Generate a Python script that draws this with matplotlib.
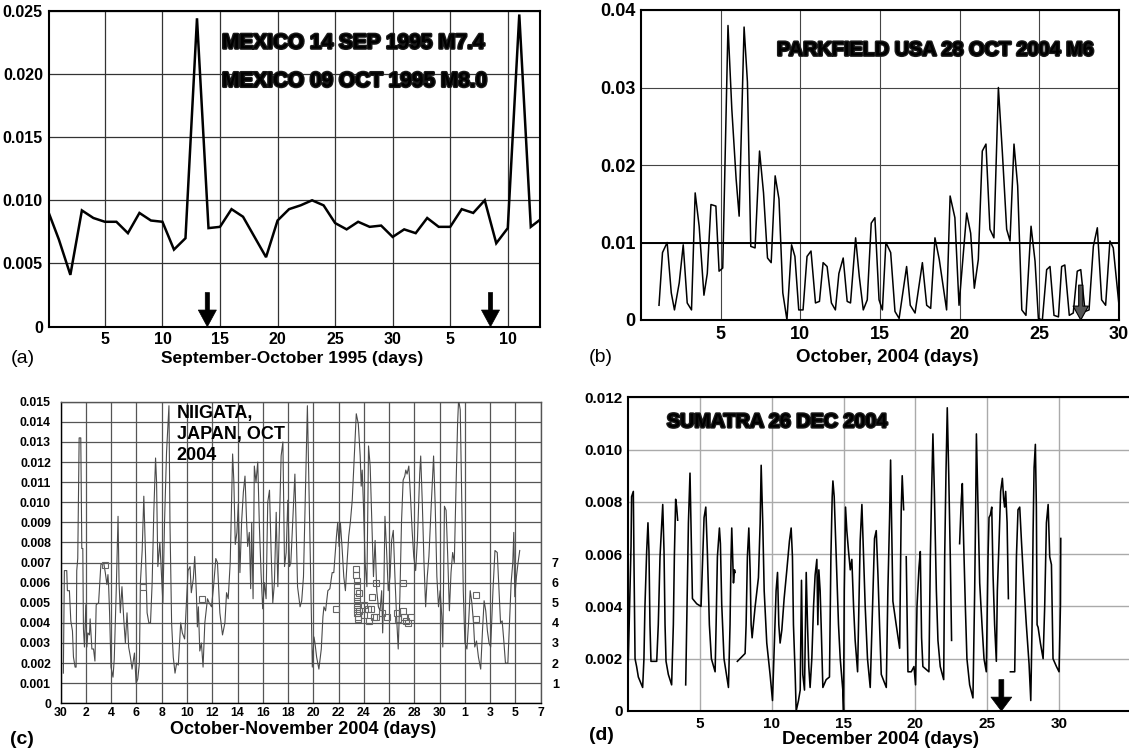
import numpy as np
import matplotlib
matplotlib.use("Agg")
import matplotlib.pyplot as plt
import matplotlib.patheffects as pe
from matplotlib.patches import FancyArrowPatch
from matplotlib.ticker import FixedLocator, FuncFormatter

plt.rcParams["font.family"] = ["Liberation Sans", "DejaVu Sans"]
plt.rcParams["font.weight"] = "bold"

NAN = float("nan")

# (a) Mexico, Sept-Oct 1995, daily values; day 31.. = October
a_days = list(range(44))
a_vals = [0.0093, 0.0069, 0.0041, 0.0092, 0.0086, 0.0083, 0.0083, 0.0074, 0.0090, 0.0084,
          0.0083, 0.0061, 0.0070, 0.0244, 0.0078, 0.0079, 0.0093, 0.0087, 0.0071, 0.0055,
          0.0084, 0.0093, 0.0096, 0.0100, 0.0096, 0.0082, 0.0077, 0.0083, 0.0079, 0.0080,
          0.0071, 0.0077, 0.0074, 0.0086, 0.0079, 0.0079, 0.0093, 0.0090, 0.0100, 0.0066,
          0.0078, 0.0247, 0.0079, 0.0086]
a_tick_pos = [5, 10, 15, 20, 25, 30, 35, 40]
a_tick_labels = ["5", "10", "15", "20", "25", "30", "5", "10"]
a_quakes = [13.9, 38.5]

# (b) Parkfield, October 2004
b_days = [1.13, 1.35, 1.64, 1.9, 2.1, 2.4, 2.65, 2.9, 3.17, 3.4, 3.65, 3.95, 4.16, 4.39, 4.7,
          4.9, 5.13, 5.46, 5.7, 5.97, 6.16, 6.47, 6.68, 6.89, 7.16, 7.44, 7.69, 7.94, 8.17,
          8.42, 8.66, 8.9, 9.16, 9.45, 9.66, 9.9, 10.17, 10.42, 10.67, 10.95, 11.2, 11.43,
          11.68, 11.95, 12.2, 12.42, 12.69, 12.94, 13.15, 13.47, 13.7, 13.95, 14.2, 14.45,
          14.68, 14.94, 15.15, 15.37, 15.67, 15.94, 16.2, 16.67, 16.9, 17.2, 17.66, 17.93,
          18.18, 18.45, 18.72, 19.18, 19.4, 19.7, 19.96, 20.44, 20.69, 20.92, 21.17, 21.42,
          21.65, 21.9, 22.15, 22.43, 22.68, 22.95, 23.16, 23.41, 23.64, 23.9, 24.16, 24.48,
          24.73, 24.94, 25.19, 25.46, 25.67, 25.92, 26.2, 26.4, 26.6, 26.88, 27.13, 27.38,
          27.6, 27.87, 28.12, 28.39, 28.64, 28.91, 29.16, 29.43, 29.64, 30.0]
b_vals = [0.0019, 0.0087, 0.0100, 0.0035, 0.0013, 0.0048, 0.0097, 0.0022, 0.0013, 0.0164,
          0.0121, 0.0032, 0.0060, 0.0149, 0.0147, 0.0063, 0.0067, 0.0380, 0.0272, 0.0182,
          0.0134, 0.0378, 0.0307, 0.0095, 0.0093, 0.0218, 0.0164, 0.0080, 0.0074, 0.0186,
          0.0156, 0.0035, 0.0000, 0.0097, 0.0082, 0.0013, 0.0013, 0.0082, 0.0089, 0.0022,
          0.0024, 0.0074, 0.0069, 0.0022, 0.0013, 0.0060, 0.0080, 0.0024, 0.0022, 0.0106,
          0.0056, 0.0013, 0.0026, 0.0125, 0.0132, 0.0026, 0.0013, 0.0100, 0.0087, 0.0011,
          0.0002, 0.0069, 0.0019, 0.0009, 0.0074, 0.0019, 0.0015, 0.0106, 0.0078, 0.0013,
          0.0160, 0.0132, 0.0019, 0.0138, 0.0112, 0.0041, 0.0078, 0.0218, 0.0227, 0.0117,
          0.0106, 0.0300, 0.0216, 0.0117, 0.0102, 0.0227, 0.0173, 0.0013, 0.0006, 0.0121,
          0.0076, 0.0002, 0.0000, 0.0065, 0.0069, 0.0006, 0.0004, 0.0069, 0.0071, 0.0006,
          0.0009, 0.0063, 0.0065, 0.0011, 0.0013, 0.0095, 0.0119, 0.0026, 0.0019, 0.0102,
          0.0093, 0.0019]
b_quake = 27.6

# (c) Niigata, 30 Sept - 7 Nov 2004 (day 0 = 30 Sept)
c_days = [0.21, 0.29, 0.48, 0.53, 0.69, 0.80, 0.93, 1.01, 1.14, 1.22, 1.27, 1.35, 1.46, 1.59,
          1.67, 1.75, 1.80, 1.88, 1.99, 2.07, 2.15, 2.28, 2.33, 2.47, 2.60, 2.71, 2.81, 3.00,
          3.18, 3.40, 3.53, 3.66, 3.74, 3.79, 3.87, 3.98, 4.14, 4.24, 4.40, 4.54, 4.62, 4.72,
          4.85, 4.99, 5.12, 5.25, 5.38, 5.52, 5.65, 5.84, 5.97, 6.10, 6.23, 6.31, 6.45, 6.58,
          6.71, 6.84, 6.98, 7.11, 7.24, 7.37, 7.51, 7.59, 7.69, 7.85, 7.96, 8.09, 8.22, 8.38,
          8.57, 8.65, 8.78, 8.91, 9.05, 9.18, 9.31, 9.50, 9.63, 9.81, 9.95, 10.08, 10.24,
          10.34, 10.50, 10.61, 10.74, 10.82, 10.90, 11.01, 11.14, 11.27, 11.41, 11.62, 11.75,
          11.94, 12.10, 12.28, 12.41, 12.60, 12.81, 13.00, 13.13, 13.26, 13.42, 13.61, 13.71,
          13.82, 13.95, 14.06, 14.19, 14.32, 14.46, 14.59, 14.72, 14.80, 14.93, 15.04, 15.12,
          15.23, 15.33, 15.46, 15.60, 15.73, 15.86, 15.99, 16.13, 16.26, 16.39, 16.53, 16.66,
          16.79, 16.92, 17.06, 17.19, 17.32, 17.45, 17.59, 17.72, 17.85, 17.98, 18.12, 18.22,
          18.54, 18.75, 18.95, 19.08, 19.22, 19.40, 19.53, 19.66, 19.79, 19.92, 20.05, 20.13,
          20.26, 20.44, 20.63, 20.76, 20.84, 20.97, 21.15, 21.31, 21.49, 21.62, 21.83, 21.93,
          22.04, 22.14, 22.27, 22.41, 22.54, 22.67, 22.80, 22.93, 23.08, 23.24, 23.40, 23.56,
          23.71, 23.79, 23.87, 23.97, 24.10, 24.24, 24.37, 24.50, 24.63, 24.76, 24.89, 25.02,
          25.15, 25.28, 25.41, 25.49, 25.59, 25.67, 25.80, 25.93, 26.07, 26.20, 26.33, 26.46,
          26.59, 26.72, 26.85, 26.98, 27.11, 27.24, 27.32, 27.42, 27.56, 27.69, 27.82, 27.95,
          28.10, 28.24, 28.42, 28.50, 28.63, 28.76, 28.89, 29.02, 29.15, 29.33, 29.52, 29.65,
          29.78, 29.91, 30.04, 30.17, 30.25, 30.38, 30.51, 30.64, 30.77, 30.90, 31.03, 31.16,
          31.29, 31.42, 31.50, 31.63, 31.74, 31.87, 32.00, 32.16, 32.29, 32.42, 32.55, 32.68,
          32.78, 32.92, 33.07, 33.25, 33.39, 33.52, 33.65, 33.78, 33.91, 34.04, 34.22, 34.38,
          34.56, 34.69, 34.82, 34.95, 35.08, 35.21, 35.40, 35.53, 35.66, 35.79, 35.87, 35.95,
          36.08, 36.21, 36.34]
c_vals = [0.0015, 0.0066, 0.0066, 0.0056, 0.0056, 0.0041, 0.0036, 0.0023, 0.0018, 0.0018,
          0.0066, 0.0072, 0.0132, 0.0132, 0.0077, 0.0077, 0.0037, 0.0028, 0.0049, 0.0028,
          0.0035, 0.0034, 0.0042, 0.0027, 0.0027, 0.0021, 0.0049, 0.0050, 0.0069, 0.0070,
          0.0065, 0.0059, 0.0064, 0.0059, 0.0045, 0.0018, 0.0013, 0.0022, 0.0057, 0.0093,
          0.0060, 0.0045, 0.0058, 0.0042, 0.0030, 0.0045, 0.0028, 0.0023, 0.0017, 0.0025,
          0.0010, 0.0012, 0.0020, 0.0060, 0.0076, 0.0103, 0.0075, 0.0045, 0.0040, 0.0040,
          0.0060, 0.0095, 0.0122, 0.0110, 0.0068, 0.0080, 0.0066, 0.0050, 0.0090, 0.0125,
          0.0148, 0.0090, 0.0040, 0.0023, 0.0015, 0.0020, 0.0019, 0.0040, 0.0035, 0.0032,
          0.0050, 0.0066, 0.0068, 0.0055, 0.0062, 0.0073, 0.0055, 0.0038, 0.0048, 0.0026,
          0.0030, 0.0018, 0.0040, 0.0052, 0.0050, 0.0048, 0.0058, 0.0072, 0.0070, 0.0045,
          0.0034, 0.0040, 0.0055, 0.0052, 0.0070, 0.0124, 0.0110, 0.0079, 0.0085, 0.0099,
          0.0065, 0.0090, 0.0105, 0.0113, 0.0090, 0.0078, 0.0085, 0.0057, 0.0090, 0.0052,
          0.0118, 0.0110, 0.0120, 0.0088, 0.0065, 0.0047, 0.0060, 0.0052, 0.0100, 0.0106,
          0.0075, 0.0050, 0.0060, 0.0095, 0.0058, 0.0090, 0.0123, 0.0130, 0.0068, 0.0075,
          0.0101, 0.0068, 0.0070, 0.0114, 0.0058, 0.0048, 0.0051, 0.0063, 0.0111, 0.0148,
          0.0106, 0.0063, 0.0018, 0.0033, 0.0030, 0.0023, 0.0017, 0.0027, 0.0043, 0.0048,
          0.0046, 0.0056, 0.0057, 0.0065, 0.0065, 0.0083, 0.0090, 0.0078, 0.0090, 0.0078,
          0.0063, 0.0056, 0.0070, 0.0083, 0.0090, 0.0101, 0.0123, 0.0144, 0.0139, 0.0123,
          0.0108, 0.0116, 0.0098, 0.0070, 0.0058, 0.0128, 0.0118, 0.0090, 0.0063, 0.0081,
          0.0056, 0.0048, 0.0046, 0.0056, 0.0035, 0.0060, 0.0093, 0.0076, 0.0056, 0.0063,
          0.0081, 0.0086, 0.0063, 0.0043, 0.0027, 0.0053, 0.0090, 0.0111, 0.0113, 0.0116,
          0.0114, 0.0118, 0.0103, 0.0086, 0.0073, 0.0066, 0.0081, 0.0114, 0.0123, 0.0099,
          0.0070, 0.0048, 0.0063, 0.0073, 0.0098, 0.0123, 0.0098, 0.0063, 0.0048, 0.0056,
          0.0043, 0.0028, 0.0098, 0.0096, 0.0073, 0.0046, 0.0065, 0.0075, 0.0070, 0.0106,
          0.0139, 0.0151, 0.0146, 0.0106, 0.0056, 0.0030, 0.0027, 0.0040, 0.0056, 0.0050,
          0.0040, 0.0028, 0.0031, 0.0023, 0.0017, 0.0036, 0.0051, 0.0046, 0.0036, 0.0030,
          0.0028, 0.0056, 0.0076, 0.0075, 0.0058, 0.0040, 0.0041, 0.0031, 0.0020, 0.0020,
          0.0040, 0.0060, 0.0070, 0.0085, 0.0053, 0.0063, 0.0070, 0.0076]
c_tick_labels = ["30", "2", "4", "6", "8", "10", "12", "14", "16", "18", "20", "22", "24",
                 "26", "28", "30", "1", "3", "5", "7"]
# earthquakes (magnitude on the right-hand scale)
c_eq_days = [3.5, 6.55, 11.2, 21.83, 23.4, 23.4, 23.42, 23.42, 23.44, 23.44, 23.46, 23.46,
             23.48, 23.48, 23.5, 23.5, 23.6, 23.6, 24.0, 24.05, 24.3, 24.4, 24.6, 24.62,
             24.8, 25.0, 25.0, 25.4, 25.8, 26.6, 26.7, 27.1, 27.1, 27.2, 27.35, 27.5, 27.7,
             32.9, 32.85]
c_eq_mags = [6.9, 5.8, 5.2, 4.7, 6.7, 6.4, 6.1, 5.9, 5.6, 5.3, 5.1, 4.9, 4.7, 4.5, 4.3, 4.2,
             5.5, 4.6, 4.9, 4.4, 4.7, 4.1, 4.7, 5.3, 4.3, 6.0, 4.3, 4.5, 4.3, 4.5, 4.2, 6.0,
             4.6, 4.3, 4.1, 4.0, 4.3, 5.4, 4.2]

# (d) Sumatra, December 2004 (NaN marks breaks in the record)
d_days = [0.00, 0.12, 0.19, 0.23, 0.35, 0.40, 0.47, 0.58, 0.70, 1.00, 1.09, 1.16, 1.28, 1.37,
          1.44, 1.51, 1.58, 1.88, 1.98, 2.09, 2.21, 2.40, 2.49, 2.56, 2.63, 2.79, 3.02, 3.14,
          3.21, 3.30, 3.37, 3.44, 3.70,
          4.00, 4.07, 4.19, 4.30, 4.37, 4.47, 4.77, 5.07, 5.19, 5.28, 5.40, 5.51, 5.65, 5.79,
          6.05, 6.12, 6.21, 6.35, 6.42, 6.51, 6.67, 6.98, 7.09, 7.16, 7.21, 7.33, 7.40, 7.44,
          7.52,
          7.60, 8.14, 8.21, 8.30, 8.40, 8.49, 8.56, 8.63, 8.84, 9.07, 9.19, 9.26, 9.37, 9.47,
          9.65, 9.88, 10.05, 10.16, 10.30, 10.40, 10.49, 10.58, 10.70, 10.86, 11.05, 11.23,
          11.35, 11.44, 11.51, 11.63, 11.70, 11.86, 11.98, 12.07, 12.16, 12.28, 12.40, 12.49,
          12.58, 12.67, 12.79, 12.91, 13.02, 13.14, 13.21, 13.28, 13.37, 13.44, 13.56, 13.79,
          14.02, 14.12, 14.21, 14.26, 14.35, 14.49, 14.65, 14.77, 14.95, 15.00, 15.05, 15.14,
          15.23, 15.35, 15.47, 15.58, 15.70, 15.81, 15.98, 16.09, 16.16, 16.28, 16.40, 16.51,
          16.67, 16.86, 17.05, 17.16, 17.28, 17.40, 17.51, 17.63, 17.98, 18.09, 18.21, 18.28,
          18.35, 18.44, 18.67, 18.91, 19.02, 19.09, 19.19, 19.28,
          19.37, 19.49, 19.72, 19.91, 20.02, 20.12, 20.26, 20.35, 20.44, 20.53, 20.95, 21.05,
          21.14, 21.23, 21.33, 21.47, 21.58, 21.74, 21.98, 22.05, 22.14, 22.23, 22.33, 22.44,
          22.53, 22.80,
          23.09, 23.21, 23.28, 23.37, 23.49, 23.60, 23.79, 24.02, 24.14, 24.21, 24.26, 24.35,
          24.49, 24.65, 24.79, 24.95, 25.07, 25.14, 25.23, 25.33, 25.42, 25.53, 25.65, 25.72,
          25.84, 25.95, 26.07, 26.16, 26.23, 26.30, 26.40, 26.49, 26.56,
          26.63, 26.93, 27.05, 27.16, 27.28, 27.40, 27.56, 27.74, 27.93, 28.05, 28.14, 28.21,
          28.28, 28.37, 28.44, 28.49, 28.56, 28.72, 28.91, 29.02, 29.14, 29.26, 29.37, 29.49,
          29.60, 29.84, 30.02, 30.12, 30.14]
d_vals = [0.0019, 0.0046, 0.0063, 0.0082, 0.0084, 0.0055, 0.0020, 0.0017, 0.0013, 0.0009,
          0.0020, 0.0040, 0.0061, 0.0072, 0.0061, 0.0033, 0.0019, 0.0019, 0.0019, 0.0033,
          0.0059, 0.0079, 0.0061, 0.0033, 0.0019, 0.0014, 0.0010, 0.0033, 0.0059, 0.0081,
          0.0078, 0.0073, NAN,
          0.0010, 0.0033, 0.0072, 0.0091, 0.0072, 0.0043, 0.0041, 0.0040, 0.0059, 0.0074,
          0.0078, 0.0061, 0.0033, 0.0020, 0.0015, 0.0033, 0.0059, 0.0070, 0.0064, 0.0041,
          0.0020, 0.0009, 0.0033, 0.0059, 0.0070, 0.0049, 0.0054, 0.0053, NAN,
          0.0019, 0.0022, 0.0033, 0.0059, 0.0070, 0.0054, 0.0033, 0.0028, 0.0040, 0.0051,
          0.0072, 0.0094, 0.0072, 0.0046, 0.0026, 0.0014, 0.0004, 0.0023, 0.0046, 0.0053,
          0.0033, 0.0026, 0.0031, 0.0043, 0.0054, 0.0065, 0.0070, 0.0059, 0.0033, 0.0014,
          0.0000, 0.0004, 0.0008, 0.0050, 0.0014, 0.0008, 0.0053, 0.0033, 0.0017, 0.0009,
          0.0020, 0.0040, 0.0052, 0.0058, 0.0033, 0.0054, 0.0046, 0.0033, 0.0009, 0.0012,
          0.0013, 0.0059, 0.0082, 0.0088, 0.0082, 0.0059, 0.0033, 0.0020, 0.0008, 0.0000,
          0.0046, 0.0078, 0.0069, 0.0061, 0.0054, 0.0058, 0.0040, 0.0027, 0.0015, 0.0046,
          0.0065, 0.0079, 0.0059, 0.0040, 0.0020, 0.0009, 0.0046, 0.0066, 0.0069, 0.0052,
          0.0033, 0.0014, 0.0009, 0.0046, 0.0074, 0.0096, 0.0072, 0.0042, 0.0033, 0.0024,
          0.0077, 0.0090, 0.0077, NAN,
          0.0059, 0.0015, 0.0015, 0.0017, 0.0010, 0.0040, 0.0055, 0.0061, 0.0028, 0.0017,
          0.0015, 0.0059, 0.0084, 0.0106, 0.0084, 0.0046, 0.0027, 0.0017, 0.0012, 0.0059,
          0.0091, 0.0116, 0.0091, 0.0059, 0.0027, NAN,
          0.0064, 0.0081, 0.0087, 0.0065, 0.0040, 0.0020, 0.0010, 0.0005, 0.0046, 0.0078,
          0.0106, 0.0084, 0.0049, 0.0033, 0.0020, 0.0015, 0.0059, 0.0074, 0.0075, 0.0078,
          0.0052, 0.0033, 0.0019, 0.0046, 0.0065, 0.0084, 0.0089, 0.0081, 0.0078, 0.0084,
          0.0072, 0.0043, NAN,
          0.0015, 0.0015, 0.0059, 0.0077, 0.0078, 0.0065, 0.0049, 0.0033, 0.0018, 0.0004,
          0.0033, 0.0068, 0.0093, 0.0102, 0.0078, 0.0033, 0.0032, 0.0026, 0.0020, 0.0040,
          0.0072, 0.0079, 0.0059, 0.0056, 0.0020, 0.0017, 0.0015, 0.0041, 0.0066]
d_quake = 26.0

W, H = 1129, 754


def box(left, top, right, bottom):
    return [left / W, 1 - bottom / H, (right - left) / W, (bottom - top) / H]


def value_fmt(decimals):
    return FuncFormatter(lambda v, _: "0" if abs(v) < 1e-12 else f"{v:.{decimals}f}")


def style_axes(ax, grid_color, grid_lw, spine_lw, size, xpad=4, ypad=4):
    ax.grid(True, color=grid_color, lw=grid_lw)
    ax.set_axisbelow(True)
    for s in ax.spines.values():
        s.set_linewidth(spine_lw)
        s.set_color("black")
    ax.tick_params(length=0, labelsize=size)
    ax.tick_params(axis="x", pad=xpad)
    ax.tick_params(axis="y", pad=ypad)
    for lab in ax.get_xticklabels() + ax.get_yticklabels():
        lab.set_fontweight("bold")


def down_arrow(ax, x, top, head_len, head_w, tail_w, fc="black", ec="black", lw=0.5):
    arrow = FancyArrowPatch(
        (x, top), (x, 0),
        arrowstyle=f"simple,head_length={head_len},head_width={head_w},tail_width={tail_w}",
        mutation_scale=1, fc=fc, ec=ec, lw=lw, shrinkA=0, shrinkB=0, zorder=5,
    )
    ax.add_patch(arrow)


def heavy(ax, x, y, s, size):
    ax.text(x, y, s, transform=ax.transAxes, fontsize=size, fontweight="bold", va="center",
            ha="left", color="black",
            path_effects=[pe.withStroke(linewidth=2.0, foreground="#1a1a1a")])


fig = plt.figure(figsize=(11.29, 7.54), dpi=100)

# ---- (a)
ax = fig.add_axes(box(48.5, 10.7, 540, 326.7))
ax.plot(a_days, a_vals, color="black", lw=1.8, solid_joinstyle="miter", zorder=3)
ax.set_xlim(0.1, 42.8)
ax.set_ylim(0, 0.025)
ax.xaxis.set_major_locator(FixedLocator(a_tick_pos))
ax.set_xticklabels(a_tick_labels)
ax.set_yticks([0, 0.005, 0.01, 0.015, 0.02, 0.025])
ax.yaxis.set_major_formatter(value_fmt(3))
style_axes(ax, "#333333", 0.9, 1.5, 11.5)
for d in a_quakes:
    down_arrow(ax, d, 0.0027, 12, 13, 3)
heavy(ax, 0.353, 0.898, "MEXICO 14 SEP 1995 M7.4", 15)
heavy(ax, 0.353, 0.777, "MEXICO 09 OCT 1995 M8.0", 15)
fig.text(11 / W, 1 - 358 / H, "(a)", fontsize=14, fontweight="normal", va="center")
fig.text(292 / W, 1 - 358 / H, "September-October 1995 (days)", fontsize=12.5,
         fontweight="bold", ha="center", va="center")

# ---- (b)
ax = fig.add_axes(box(641, 10, 1119, 320))
ax.plot(b_days, b_vals, color="black", lw=1.1, zorder=3)
ax.set_xlim(0, 30)
ax.set_ylim(0, 0.04)
ax.set_xticks([5, 10, 15, 20, 25, 30])
ax.set_yticks([0, 0.01, 0.02, 0.03, 0.04])
ax.yaxis.set_major_formatter(value_fmt(2))
style_axes(ax, "#444444", 0.8, 1.5, 13)
ax.axhline(0.01, color="black", lw=1.4, zorder=2)
down_arrow(ax, b_quake, 0.0045, 10, 11, 3, fc="#555555", ec="black", lw=0.8)
heavy(ax, 0.2845, 0.871, "PARKFIELD USA 28 OCT 2004 M6", 14.3)
fig.text(589 / W, 1 - 357 / H, "(b)", fontsize=14, fontweight="normal", va="center")
fig.text(887 / W, 1 - 357 / H, "October, 2004 (days)", fontsize=13.5, fontweight="bold",
         ha="center", va="center")

# ---- (c)
ax = fig.add_axes(box(60.7, 401.7, 540.7, 703.3))
ax.plot(c_days, c_vals, color="#4a4a4a", lw=0.8, zorder=3)
ax.set_xlim(0, 38)
ax.set_ylim(0, 0.015)
ax.set_xticks(np.arange(0, 39, 2))
ax.set_xticklabels(c_tick_labels)
ax.set_yticks(np.arange(0, 0.0155, 0.001))
ax.yaxis.set_major_formatter(value_fmt(3))
style_axes(ax, "#555555", 0.9, 1.0, 8.8, xpad=3, ypad=7)
ax.spines["top"].set_color("#555555")
ax.spines["right"].set_color("#555555")
ax.text(0.242, 0.989, "NIIGATA,\nJAPAN, OCT\n2004", transform=ax.transAxes, fontsize=13,
        fontweight="bold", va="top", ha="left", linespacing=1.3)
mag = ax.twinx()
mag.set_ylim(0, 15)
mag.set_yticks(range(1, 8))
mag.tick_params(length=0, pad=8, labelsize=9)
for lab in mag.get_yticklabels():
    lab.set_fontweight("bold")
for s in mag.spines.values():
    s.set_visible(False)
mag.plot(c_eq_days, c_eq_mags, ls="none", marker="s", ms=4.5, mfc="none", mec="#666666",
         mew=0.8)
fig.text(10 / W, 1 - 740 / H, "(c)", fontsize=14, fontweight="bold", va="center")
fig.text(303 / W, 1 - 729 / H, "October-November 2004 (days)", fontsize=13,
         fontweight="bold", ha="center", va="center")

# ---- (d)
ax = fig.add_axes(box(628.3, 397.3, 1130.5, 711))
ax.plot(d_days, d_vals, color="black", lw=1.15, zorder=3)
ax.set_xlim(0, 35)
ax.set_ylim(0, 0.012)
ax.set_xticks([5, 10, 15, 20, 25, 30])
ax.set_yticks([0, 0.002, 0.004, 0.006, 0.008, 0.010, 0.012])
ax.yaxis.set_major_formatter(value_fmt(3))
style_axes(ax, "#aaaaaa", 1.0, 1.5, 11)
down_arrow(ax, d_quake, 0.0012, 10, 15, 3.5)
heavy(ax, 0.077, 0.922, "SUMATRA 26 DEC 2004", 14.2)
fig.text(589 / W, 1 - 735 / H, "(d)", fontsize=14, fontweight="bold", va="center")
fig.text(880.6 / W, 1 - 739 / H, "December 2004 (days)", fontsize=13.5, fontweight="bold",
         ha="center", va="center")

fig.savefig("out.png", dpi=100)
